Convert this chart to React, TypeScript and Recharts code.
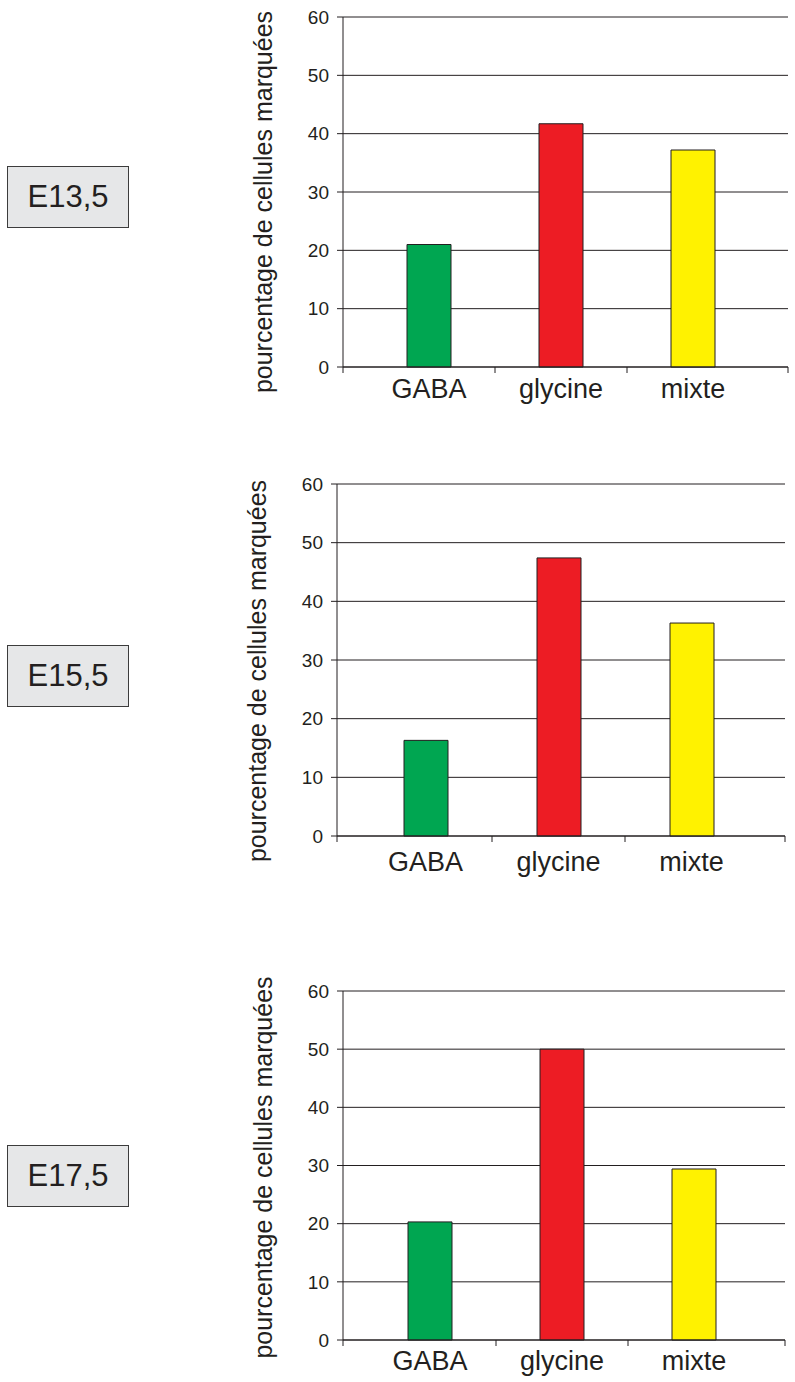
import React from "react";
import { BarChart, Bar, XAxis, YAxis, CartesianGrid, Cell } from "recharts";

// categories, values (percent of labelled cells) and stage names
const CATEGORIES = ["GABA", "glycine", "mixte"];
const E13_VALUES = [21, 41.7, 37.2];
const E15_VALUES = [16.3, 47.4, 36.3];
const E17_VALUES = [20.3, 50, 29.4];
const STAGES = ["E13,5", "E15,5", "E17,5"];
const Y_TICKS = [0, 10, 20, 30, 40, 50, 60];
const BAR_COLORS = ["#00a651", "#ed1c24", "#fff200"];
const Y_LABEL = "pourcentage de cellules marquées";

const FONT = "'Liberation Sans', Arial, Helvetica, sans-serif";
const INK = "#231f20";
const W = 795;
const MT = 15;
const XH = 45;
const YW = 100;

type Layout = {
  plotTop: number;
  plotBottom: number;
  plotLeft: number;
  plotRight: number;
  padL: number;
  padR: number;
  labelDy: number;
  yLabelShift: number;
  boxTop: number;
};

const LAYOUTS: Layout[] = [
  { plotTop: 17, plotBottom: 367, plotLeft: 343, plotRight: 788, padL: 20, padR: 29, labelDy: 31, yLabelShift: 10, boxTop: 166 },
  { plotTop: 484, plotBottom: 836, plotLeft: 337, plotRight: 785, padL: 22, padR: 27, labelDy: 35, yLabelShift: 11, boxTop: 645 },
  { plotTop: 991, plotBottom: 1340, plotLeft: 343, plotRight: 785, padL: 21, padR: 25, labelDy: 30, yLabelShift: 2, boxTop: 1145 },
];

function StageChart({ stage, values, lay }: { stage: string; values: number[]; lay: Layout }) {
  const plotH = lay.plotBottom - lay.plotTop;
  const H = MT + plotH + XH;
  const data = CATEGORIES.map((c, i) => ({ name: c, value: values[i] }));
  const band = (lay.plotRight - lay.plotLeft - lay.padL - lay.padR) / CATEGORIES.length;
  const axisY = MT + plotH;

  const renderTick = (props: any) => {
    const { x, payload, index } = props;
    const bx = index === 0 ? lay.plotLeft : x - band / 2;
    const last = index === CATEGORIES.length - 1;
    return (
      <g>
        <line x1={bx} x2={bx} y1={axisY} y2={axisY + 6} stroke={INK} strokeWidth={1} />
        {last && (
          <line x1={lay.plotRight} x2={lay.plotRight} y1={axisY} y2={axisY + 6} stroke={INK} strokeWidth={1} />
        )}
        <text x={x} y={axisY + lay.labelDy} textAnchor="middle" fontSize={27} fill={INK} fontFamily={FONT}>
          {payload.value}
        </text>
      </g>
    );
  };

  const renderYLabel = () => {
    const cx = lay.plotLeft - 80;
    const cy = MT + plotH / 2 + lay.yLabelShift;
    return (
      <text
        x={cx}
        y={cy}
        transform={`rotate(-90, ${cx}, ${cy})`}
        textAnchor="middle"
        dominantBaseline="central"
        fontSize={25}
        fill={INK}
        fontFamily={FONT}
      >
        {Y_LABEL}
      </text>
    );
  };

  return (
    <>
      <div
        style={{
          position: "absolute",
          left: 7,
          top: lay.boxTop,
          width: 120,
          height: 60,
          background: "#e6e7e8",
          border: "1px solid #3c3c3c",
          display: "flex",
          alignItems: "center",
          justifyContent: "center",
          fontFamily: FONT,
          fontSize: 31,
          color: INK,
        }}
      >
        {stage}
      </div>
      <div style={{ position: "absolute", left: 0, top: lay.plotTop - MT }}>
        <BarChart
          width={W}
          height={H}
          data={data}
          margin={{ top: MT, right: W - lay.plotRight, left: lay.plotLeft - YW, bottom: 0 }}
        >
          <CartesianGrid yAxisId="left" vertical={false} stroke={INK} strokeWidth={1} />
          <XAxis
            dataKey="name"
            height={XH}
            padding={{ left: lay.padL, right: lay.padR }}
            axisLine={{ stroke: INK, strokeWidth: 1 }}
            tickLine={false}
            tick={renderTick}
            interval={0}
          />
          <YAxis
            yAxisId="left"
            width={YW}
            domain={[0, 60]}
            ticks={Y_TICKS}
            interval={0}
            axisLine={{ stroke: INK, strokeWidth: 1 }}
            tickLine={{ stroke: INK, strokeWidth: 1 }}
            tickSize={6}
            tickMargin={8}
            tick={{ fontSize: 19, fill: INK, fontFamily: FONT }}
            label={{ content: renderYLabel }}
          />
          <YAxis
            yAxisId="right"
            orientation="right"
            width={0}
            domain={[0, 60]}
            tick={false}
            tickLine={false}
            axisLine={{ stroke: INK, strokeWidth: 1 }}
          />
          <Bar yAxisId="left" dataKey="value" barSize={44} stroke={INK} strokeWidth={1} isAnimationActive={false}>
            {data.map((d, i) => (
              <Cell key={d.name} fill={BAR_COLORS[i]} />
            ))}
          </Bar>
        </BarChart>
      </div>
    </>
  );
}

export default function App() {
  const series = [E13_VALUES, E15_VALUES, E17_VALUES];
  return (
    <div
      style={{
        position: "absolute",
        left: 0,
        top: 0,
        width: W,
        height: 1382,
        overflow: "hidden",
        background: "#fff",
      }}
    >
      {STAGES.map((s, i) => (
        <StageChart key={s} stage={s} values={series[i]} lay={LAYOUTS[i]} />
      ))}
    </div>
  );
}
